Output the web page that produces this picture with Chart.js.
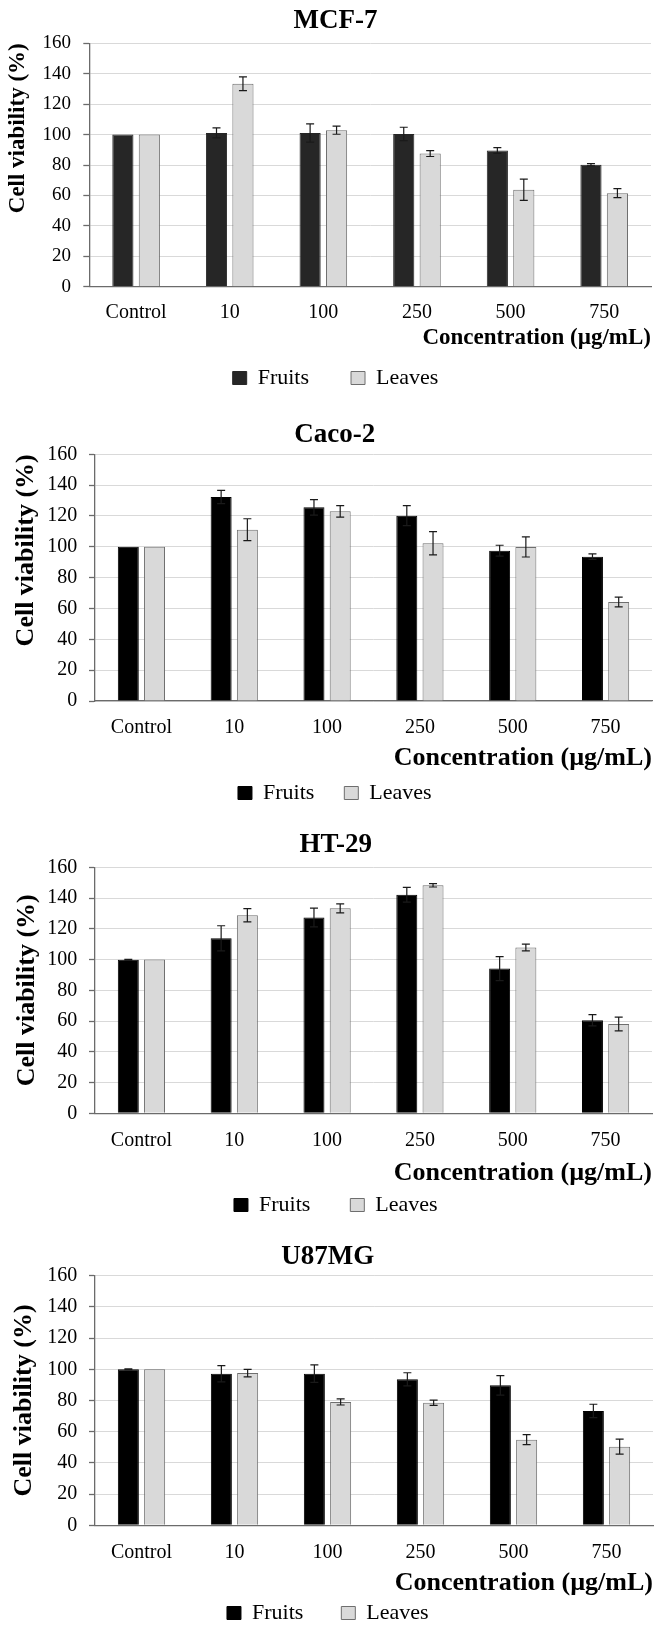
<!DOCTYPE html>
<html>
<head>
<meta charset="utf-8">
<script src="https://cdn.jsdelivr.net/npm/chart.js@4.4.1/dist/chart.umd.min.js"></script>
<style>
  html, body { margin: 0; padding: 0; background: #fff; }
  #wrap { position: relative; width: 668px; height: 1632px; }
  .panel { position: absolute; left: 0; width: 668px; }
</style>
</head>
<body>
<div id="wrap">
  <div class="panel" style="top:0;height:400px"><canvas id="c1" width="668" height="400"></canvas></div>
  <div class="panel" style="top:400px;height:410px"><canvas id="c2" width="668" height="410"></canvas></div>
  <div class="panel" style="top:810px;height:410px"><canvas id="c3" width="668" height="410"></canvas></div>
  <div class="panel" style="top:1220px;height:412px"><canvas id="c4" width="668" height="412"></canvas></div>
</div>
<script>
const categories = ['Control', '10', '100', '250', '500', '750'];
const yMin = 0, yMax = 160, yStep = 20;
const seriesNames = ['Fruits', 'Leaves'];

// MCF-7
const mcf7Fruits = [100, 101.1, 101, 100.4, 89.5, 80.2];
const mcf7FruitsErr = [0, 3.3, 6, 4.4, 1.9, 0.7];
const mcf7Leaves = [100, 133.4, 102.9, 87.5, 63.7, 61.5];
const mcf7LeavesErr = [0, 4.5, 2.7, 1.9, 7, 3];

// Caco-2
const caco2Fruits = [100, 132.3, 125.6, 120.2, 97.5, 93.6];
const caco2FruitsErr = [0, 4.3, 5, 6.5, 3.5, 1.8];
const caco2Leaves = [100, 111.1, 123, 102.3, 99.9, 64.2];
const caco2LeavesErr = [0, 7.1, 3.7, 7.5, 6.5, 3.2];

// HT-29
const ht29Fruits = [99.9, 113.8, 127.3, 142.2, 94.1, 60.5];
const ht29FruitsErr = [0.3, 8.2, 6.1, 4.8, 7.8, 3.7];
const ht29Leaves = [100, 128.8, 133.3, 148.3, 107.8, 58.1];
const ht29LeavesErr = [0, 4.3, 2.9, 1.1, 2.2, 4.5];

// U87MG
const u87Fruits = [100, 97.2, 97.2, 93.6, 89.7, 73.3];
const u87FruitsErr = [0.3, 5.2, 5.6, 4.2, 6.2, 4.3];
const u87Leaves = [100, 97.6, 79.1, 78.6, 54.9, 50.4];
const u87LeavesErr = [0, 2.4, 2, 1.7, 3.2, 4.8];

const FONT = "'Liberation Serif', 'Times New Roman', serif";
const AXIS = '#6b6b6b';

const errorBars = {
  id: 'errorBars',
  afterDatasetsDraw(chart) {
    const ctx = chart.ctx;
    const y = chart.scales.y;
    chart.data.datasets.forEach((ds, i) => {
      const meta = chart.getDatasetMeta(i);
      meta.data.forEach((bar, j) => {
        const err = ds.errors[j];
        if (!err) return;
        const v = ds.data[j];
        const top = y.getPixelForValue(v + err);
        const bot = y.getPixelForValue(v - err);
        ctx.save();
        ctx.strokeStyle = '#1a1a1a';
        ctx.lineWidth = 1.2;
        ctx.beginPath();
        ctx.moveTo(bar.x, top); ctx.lineTo(bar.x, bot);
        ctx.moveTo(bar.x - 4, top); ctx.lineTo(bar.x + 4, top);
        ctx.moveTo(bar.x - 4, bot); ctx.lineTo(bar.x + 4, bot);
        ctx.stroke();
        ctx.restore();
      });
    });
  }
};

function makeChart(id, title, fruits, fruitsErr, leaves, leavesErr, p) {
  const ctx = document.getElementById(id).getContext('2d');
  return new Chart(ctx, {
    type: 'bar',
    data: {
      labels: categories,
      datasets: [
        {
          label: seriesNames[0],
          data: fruits,
          errors: fruitsErr,
          backgroundColor: p.fruitColor,
          borderColor: p.fruitColor,
          borderWidth: 1
        },
        {
          label: seriesNames[1],
          data: leaves,
          errors: leavesErr,
          backgroundColor: '#d9d9d9',
          borderColor: '#6e6e6e',
          borderWidth: 1
        }
      ]
    },
    options: {
      responsive: false,
      animation: false,
      events: [],
      categoryPercentage: 0.565,
      barPercentage: 0.8,
      layout: { padding: { top: 0, left: p.padL, right: p.padR, bottom: p.padB } },
      scales: {
        x: {
          grid: { display: false, drawTicks: false },
          border: { display: true, color: AXIS, width: 1.3 },
          ticks: { color: '#000', padding: p.xTickPad, maxRotation: 0, autoSkip: false,
                   font: { family: FONT, size: 20 } },
          title: { display: true, text: 'Concentration (µg/mL)', align: 'end', color: '#000',
                   font: { family: FONT, size: p.xTitleSize, weight: 'bold' },
                   padding: { top: 0, bottom: p.xTitlePadB } },
          afterFit(s) { s.height = p.xScaleH; }
        },
        y: {
          min: yMin,
          max: yMax,
          grid: { color: '#d9d9d9', lineWidth: 1, drawTicks: true, tickLength: 6, tickColor: AXIS, tickWidth: 1.3 },
          border: { display: true, color: AXIS, width: 1.3 },
          ticks: { stepSize: yStep, color: '#000', padding: p.yTickPad,
                   font: { family: FONT, size: p.yTickSize } },
          title: { display: true, text: 'Cell viability (%)', align: p.yTitleAlign, color: '#000',
                   font: { family: FONT, size: p.yTitleSize, weight: 'bold' },
                   padding: { top: p.yTitlePad, bottom: 0 } },
          afterFit(s) { s.width = p.axisX - p.padL; }
        }
      },
      plugins: {
        title: {
          display: true,
          text: title,
          color: '#000',
          font: { family: FONT, size: 27, weight: 'bold' },
          padding: { top: p.tPadT, bottom: p.tPadB }
        },
        legend: {
          position: 'bottom',
          maxHeight: p.legPad + 26,
          labels: { boxWidth: 14, boxHeight: 13, padding: p.legPad, color: '#000',
                    font: { family: FONT, size: 22 } }
        },
        tooltip: { enabled: false }
      }
    },
    plugins: [errorBars]
  });
}

makeChart('c1', 'MCF-7', mcf7Fruits, mcf7FruitsErr, mcf7Leaves, mcf7LeavesErr, {
  fruitColor: '#262626', padL: 20, padR: 17, padB: 7, axisX: 89.3,
  tPadT: 4.8, tPadB: 6.1, xTickPad: 14.3, xScaleH: 38.3, xTitleSize: 23, xTitlePadB: -26.8,
  legPad: 42, yTickSize: 19, yTickPad: 12.3, yTitleSize: 23, yTitleAlign: 'end', yTitlePad: -15.3
});

makeChart('c2', 'Caco-2', caco2Fruits, caco2FruitsErr, caco2Leaves, caco2LeavesErr, {
  fruitColor: '#000000', padL: 17.6, padR: 16, padB: 2, axisX: 95,
  tPadT: 18.8, tPadB: 3.1, xTickPad: 15, xScaleH: 51, xTitleSize: 26, xTitlePadB: -21.6,
  legPad: 30, yTickSize: 20, yTickPad: 11.7, yTitleSize: 26, yTitleAlign: 'end', yTitlePad: -6.9
});

makeChart('c3', 'HT-29', ht29Fruits, ht29FruitsErr, ht29Leaves, ht29LeavesErr, {
  fruitColor: '#000000', padL: 19.6, padR: 16, padB: 0, axisX: 95,
  tPadT: 18.8, tPadB: 6.1, xTickPad: 15.7, xScaleH: 40.7, xTitleSize: 26, xTitlePadB: -34.6,
  legPad: 40, yTickSize: 20, yTickPad: 11.7, yTitleSize: 26, yTitleAlign: 'center', yTitlePad: -8.2
});

makeChart('c4', 'U87MG', u87Fruits, u87FruitsErr, u87Leaves, u87LeavesErr, {
  fruitColor: '#000000', padL: 2.6, padR: 15, padB: 4, axisX: 95,
  tPadT: 20.8, tPadB: 2.5, xTickPad: 15.7, xScaleH: 38.7, xTitleSize: 26, xTitlePadB: -34.6,
  legPad: 38, yTickSize: 20, yTickPad: 11.7, yTitleSize: 26, yTitleAlign: 'center', yTitlePad: 5.8
});
</script>
</body>
</html>
